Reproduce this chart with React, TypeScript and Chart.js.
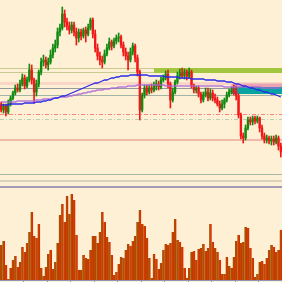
import { useEffect, useRef } from "react";
import { Chart, registerables } from "chart.js";
Chart.register(...registerables);

const labels = Array.from({ length: 120 }, (_, i) => `${i + 1}`);

const openP = [
  196,190,194,188,196,202,207,212,210,216,
  222,214,220,230,220,208,216,228,238,240,
  235,238,245,252,255,268,272,286,278,274,
  270,275,268,262,268,264,270,266,272,280,
  266,252,244,240,238,246,252,258,254,259,
  262,263,255,248,244,240,248,254,242,228,
  190,205,212,208,212,210,214,216,213,220,
  222,226,216,200,208,218,224,227,224,228,
  224,228,214,210,212,206,200,205,208,202,
  207,202,200,196,192,196,200,205,208,210,
  208,204,185,164,162,172,180,178,182,179,
  182,172,164,160,162,159,161,158,162,154,
];
const highP = [
  198,196,196,200,204,209,215,216,220,226,
  225,223,236,235,222,220,230,242,245,243,
  242,250,256,260,272,276,293,290,282,278,
  278,278,272,271,271,272,273,276,282,282,
  270,256,248,244,250,256,262,260,262,265,
  267,265,258,252,248,252,257,256,245,230,
  207,215,215,215,216,218,220,219,223,225,
  229,230,218,212,220,228,231,232,231,230,
  232,230,216,214,214,208,208,212,212,211,
  210,206,203,199,200,202,208,211,213,215,
  214,206,187,167,175,183,183,184,184,184,
  183,175,167,165,164,164,164,165,164,157,
];
const lowP = [
  188,187,184,186,194,200,205,208,208,214,
  211,212,218,216,197,204,213,225,234,232,
  230,236,242,248,252,264,270,273,270,266,
  267,264,255,258,260,262,258,264,270,262,
  248,240,235,232,236,244,250,250,252,256,
  258,252,244,240,230,238,245,238,224,180,
  188,202,205,206,207,208,210,210,211,218,
  220,212,192,198,206,216,221,222,221,220,
  222,212,207,207,203,197,198,203,199,200,
  199,197,194,188,190,192,198,203,206,205,
  200,182,161,157,160,170,175,175,176,177,
  168,161,157,157,156,155,155,156,150,143,
];
const closeP = [
  190,194,188,196,202,207,212,210,216,222,
  214,220,230,220,208,216,228,238,240,235,
  238,245,252,255,268,272,286,278,274,270,
  275,268,262,268,264,270,266,272,280,266,
  252,244,240,238,246,252,258,254,259,262,
  263,255,248,244,240,248,254,242,228,190,
  205,212,208,212,210,214,216,213,220,222,
  226,216,200,208,218,224,227,224,228,224,
  228,214,210,212,206,200,205,208,202,207,
  202,200,196,192,196,200,205,208,210,208,
  204,185,164,162,172,180,178,182,179,182,
  172,164,160,162,159,161,158,162,154,148,
];
const volume = [
  350,390,150,10,120,200,240,130,180,330,
  280,370,480,680,440,420,560,120,40,130,
  260,300,110,180,370,650,760,580,840,660,
  860,800,450,100,100,250,220,210,300,440,
  440,370,480,680,580,430,380,250,50,80,
  160,230,220,300,360,340,390,440,580,700,
  560,540,420,220,20,260,210,110,170,300,
  360,350,370,480,610,400,380,330,120,20,
  120,280,290,200,310,320,360,290,320,560,
  380,320,280,200,60,60,230,140,120,230,
  390,450,370,380,530,520,320,220,30,60,
  180,190,160,220,300,350,330,280,300,500,
];
const maBlue = [
  195,195,195,195,196,196,196,196,196,196,
  197,197,197,197,197,198,198,198,199,199,
  200,200,201,202,202,203,204,204,205,206,
  207,208,209,210,211,212,213,214,215,216,
  217,217,218,219,220,220,221,222,222,223,
  223,224,224,224,224,225,225,225,225,225,
  225,225,225,224,224,224,224,224,224,224,
  223,223,223,223,223,223,222,222,222,222,
  222,221,221,221,221,221,221,220,220,220,
  220,220,219,219,219,219,218,218,218,217,
  216,216,215,214,214,213,212,212,211,210,
  210,209,208,208,207,206,206,205,204,203,
];
const maPurple = [
  198,198,198,198,198,198,198,199,199,199,
  199,199,199,199,199,200,200,200,201,201,
  201,201,202,202,202,203,203,203,203,204,
  204,205,205,206,206,207,207,208,208,209,
  209,210,210,210,211,211,211,212,212,212,
  213,213,213,213,214,214,214,214,215,215,
  215,215,215,215,215,215,215,215,215,215,
  214,214,214,214,214,214,214,214,214,214,
  214,214,214,214,214,214,214,214,214,214,
  214,214,214,214,214,213,213,213,213,213,
  213,213,213,213,213,213,213,213,213,213,
  213,212,212,212,212,212,212,212,212,212,
];

// price levels
const greenZone = [228, 232];
const greenZoneStart = 65;
const pinkZone = [215, 218];
const pinkZoneRight = [213, 216.5];
const tealZone = [206, 213];
const tealZoneStart = 98;
const solidLevels = [212, 205, 160, 126, 119, 113];
const solidColors = ["#959b9b", "#a2b4a6", "#f3b9a8", "#a9b9a7", "#d9d3bd", "#a39ab6"];
const solidWidths = [1, 1, 2, 1, 2, 2];
const dashLevels = [186, 181];
const dashColors = ["#ff8080", "#b9cfb2"];

const UP = "#118a11";
const DOWN = "#f21818";

const zonesPlugin = {
  id: "zones",
  beforeDatasetsDraw(chart: any) {
    const { ctx, chartArea: a, scales } = chart;
    const y = scales.y;
    const x = scales.x;
    ctx.save();
    ctx.fillStyle = "rgba(246,176,176,0.4)";
    let y1 = y.getPixelForValue(pinkZone[1]);
    let y2 = y.getPixelForValue(pinkZone[0]);
    ctx.fillRect(a.left, y1, a.right - a.left, y2 - y1);
    y1 = y.getPixelForValue(greenZone[1]);
    y2 = y.getPixelForValue(greenZone[0]);
    ctx.strokeStyle = "#c9cb8e";
    ctx.lineWidth = 1;
    ctx.beginPath();
    ctx.moveTo(a.left, Math.round(y1) + 0.5);
    ctx.lineTo(a.right, Math.round(y1) + 0.5);
    ctx.moveTo(a.left, Math.round(y2) + 0.5);
    ctx.lineTo(a.right, Math.round(y2) + 0.5);
    ctx.stroke();
    const gx = x.getPixelForValue(greenZoneStart);
    ctx.fillStyle = "#a3c640";
    ctx.fillRect(gx, y1, a.right - gx, y2 - y1 + 1);
    solidLevels.forEach((lv, i) => {
      const py = Math.round(y.getPixelForValue(lv)) + (solidWidths[i] % 2 ? 0.5 : 0);
      ctx.strokeStyle = solidColors[i];
      ctx.lineWidth = solidWidths[i];
      ctx.beginPath();
      ctx.moveTo(a.left, py);
      ctx.lineTo(a.right, py);
      ctx.stroke();
    });
    ctx.setLineDash([4, 2, 1, 2]);
    dashLevels.forEach((lv, i) => {
      const py = Math.round(y.getPixelForValue(lv)) + 0.5;
      ctx.strokeStyle = dashColors[i];
      ctx.lineWidth = 1;
      ctx.beginPath();
      ctx.moveTo(a.left, py);
      ctx.lineTo(a.right, py);
      ctx.stroke();
    });
    ctx.setLineDash([]);
    const tx = x.getPixelForValue(tealZoneStart);
    y1 = y.getPixelForValue(tealZone[1]);
    y2 = y.getPixelForValue(tealZone[0]);
    ctx.fillStyle = "#0aa3a3";
    ctx.fillRect(tx, y1, a.right - tx, y2 - y1);
    y1 = y.getPixelForValue(pinkZoneRight[1]);
    y2 = y.getPixelForValue(pinkZoneRight[0]);
    ctx.fillStyle = "#e9a3b3";
    ctx.fillRect(tx, y1, a.right - tx, y2 - y1);
    ctx.restore();
  },
};

export default function App() {
  const ref = useRef<HTMLCanvasElement | null>(null);
  useEffect(() => {
    document.body.style.margin = "0";
    const colors = closeP.map((c, i) => (c >= openP[i] ? UP : DOWN));
    const bodies = openP.map((o, i) => [o, closeP[i]]);
    const wicks = lowP.map((l, i) => [l, highP[i]]);
    const chart = new Chart(ref.current!, {
      type: "bar",
      data: {
        labels,
        datasets: [
          {
            type: "line",
            data: maBlue,
            borderColor: "#2b2be8",
            borderWidth: 1.3,
            pointRadius: 0,
            yAxisID: "y",
          } as any,
          {
            type: "line",
            data: maPurple,
            borderColor: "rgba(170,100,215,0.85)",
            borderWidth: 1.6,
            pointRadius: 0,
            yAxisID: "y",
          } as any,
          {
            type: "bar",
            data: bodies,
            backgroundColor: colors,
            barThickness: 1.7,
            grouped: false,
            minBarLength: 1,
            yAxisID: "y",
          } as any,
          {
            type: "bar",
            data: wicks,
            backgroundColor: colors,
            barThickness: 1,
            grouped: false,
            yAxisID: "y",
          } as any,
          {
            type: "bar",
            data: volume,
            backgroundColor: "#a65300",
            borderColor: "#ff1800",
            borderWidth: { left: 0, right: 1, top: 0, bottom: 0 },
            categoryPercentage: 1,
            barPercentage: 1,
            grouped: false,
            yAxisID: "yv",
          } as any,
        ],
      },
      options: {
        animation: false,
        responsive: false,
        maintainAspectRatio: false,
        events: [],
        layout: { padding: 0 },
        plugins: { legend: { display: false }, tooltip: { enabled: false } },
        scales: {
          x: {
            offset: true,
            grid: {
              drawOnChartArea: false,
              drawTicks: true,
              tickLength: 2,
              color: (c: any) => (c.index % 10 === 0 ? "#8f95b7" : "rgba(0,0,0,0)"),
            },
            border: { display: true, color: "#8f95b7", width: 1 },
            ticks: { display: false, autoSkip: false },
          },
          y: { display: false, min: 20, max: 300 },
          yv: { display: false, min: 0, max: 2800 },
        },
      } as any,
      plugins: [zonesPlugin],
    });
    return () => chart.destroy();
  }, []);
  return (
    <div style={{ position: "fixed", left: 0, top: 0, width: 282, height: 282, background: "#fdf0d5" }}>
      <canvas ref={ref} width={282} height={282} style={{ display: "block" }} />
    </div>
  );
}
